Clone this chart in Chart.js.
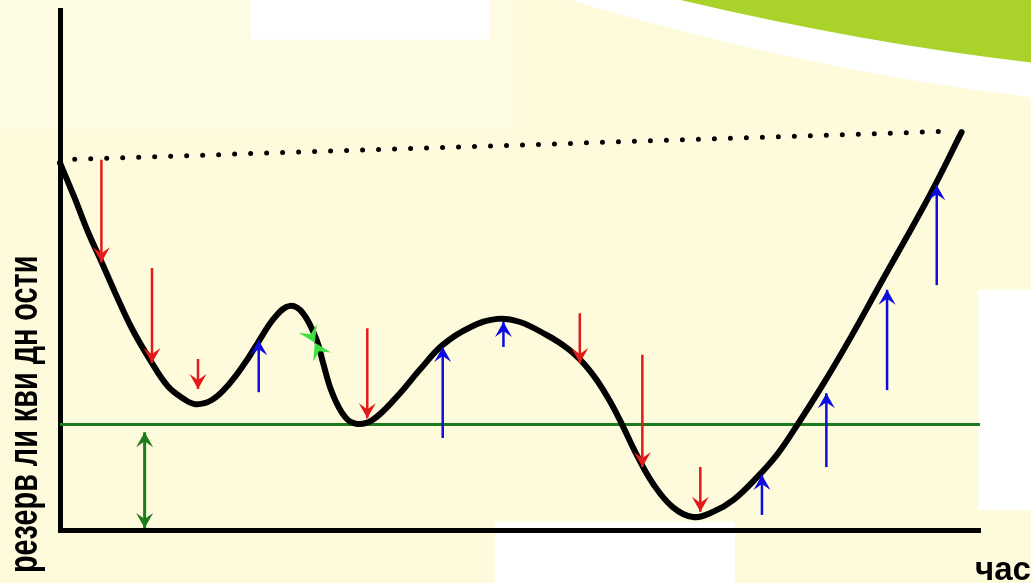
<!DOCTYPE html>
<html>
<head>
<meta charset="utf-8">
<script src="https://cdn.jsdelivr.net/npm/chart.js@4.4.1/dist/chart.umd.min.js"></script>
<style>
  html, body { margin: 0; padding: 0; background: #fefadc; }
  #wrap { width: 1031px; height: 583px; position: relative; }
</style>
</head>
<body>
<div id="wrap"><canvas id="grafico"></canvas></div>
<script>
// кривая резерва ликвидности (x — время, y — резерв)
const curveX = [0, 1.6, 3.0, 4.6, 6.0, 7.8, 10.0, 11.7, 13.3, 14.7, 16.5, 18.3, 20.1, 21.5, 23.4, 25.0, 26.4, 27.9, 28.6, 29.6, 31.0, 32.3, 34.0, 36.6, 39.1, 41.6, 44.6, 47.5, 50.0, 52.9, 54.3, 55.8, 57.1, 58.4, 59.7, 60.9, 62.7, 64.5, 66.6, 68.8, 71.0, 73.2, 75.8, 77.9, 79.7, 82.9, 85.9, 89.1, 94.6, 98.0];
const curveY = [70.6, 63.8, 57.5, 51.2, 45.6, 38.8, 32.1, 27.7, 25.4, 24.2, 25.0, 27.9, 32.1, 36.0, 41.0, 43.1, 41.7, 36.5, 32.1, 26.3, 21.7, 20.4, 21.2, 25.6, 30.8, 35.6, 39.0, 40.6, 40.0, 37.5, 36.0, 34.0, 31.7, 28.7, 25.0, 21.0, 14.4, 8.8, 4.4, 2.5, 3.5, 5.8, 10.2, 14.4, 19.0, 27.9, 36.9, 47.1, 64.6, 76.5];

// пунктир сверху и минимальный уровень
const dottedX = [1.6, 97.0];
const dottedY = [71.3, 76.7];
const minLevel = 20.3;

// оттоки (красные стрелки вниз)
const outX = [4.5, 10.0, 15.0, 33.4, 56.5, 63.3, 69.6];
const outFrom = [71.2, 50.4, 32.9, 38.8, 41.7, 33.7, 12.1];
const outTo = [51.5, 32.1, 27.1, 21.5, 32.1, 12.1, 3.5];

// притоки (синие стрелки вверх)
const inX = [21.6, 41.6, 48.2, 76.3, 83.3, 89.9, 95.3];
const inFrom = [26.5, 17.7, 35.2, 2.9, 12.1, 26.9, 47.1];
const inTo = [36.5, 35.2, 40.0, 10.6, 26.3, 46.2, 66.3];

// двойная стрелка до минимального уровня и маленькая зелёная на спаде
const reserveX = 9.2;
const reserveY = [18.8, 0.4];
const smallX = [26.6, 27.7, 28.8];
const smallY = [40.0, 36.0, 32.2];

const pts = (xs, ys) => xs.map((x, i) => ({ x: x, y: ys[i] }));

const arrowSets = [];
outX.forEach((x, i) => {
  arrowSets.push({
    data: [{ x: x, y: outFrom[i] }, { x: x, y: outTo[i] }],
    borderColor: "#e21a1a", borderWidth: 2.5, pointRadius: 0, arrow: "end", order: 0, clip: false,
  });
});
inX.forEach((x, i) => {
  arrowSets.push({
    data: [{ x: x, y: inFrom[i] }, { x: x, y: inTo[i] }],
    borderColor: "#0c0ce0", borderWidth: 2.5, pointRadius: 0, arrow: "end", order: 0, clip: false,
  });
});
arrowSets.push({
  data: [{ x: reserveX, y: reserveY[0] }, { x: reserveX, y: reserveY[1] }],
  borderColor: "#1c7c1c", borderWidth: 3, pointRadius: 0, arrow: "both", order: 0, clip: false,
});
arrowSets.push({
  data: pts(smallX, smallY),
  borderColor: "rgba(0,0,0,0)", arrowColor: "#3de03d", borderWidth: 0, pointRadius: 0, arrow: "inward", order: 0, clip: false,
});

// фон слайда
const fonSlide = {
  id: "fonSlide",
  beforeDraw(chart) {
    const c = chart.ctx, w = chart.width, h = chart.height;
    c.save();
    c.fillStyle = "#fefadc";
    c.fillRect(0, 0, w, h);
    c.fillStyle = "#fefbe3";
    c.fillRect(0, 0, w * 0.5, h * 0.22);
    c.fillStyle = "#ffffff";
    c.fillRect(w * 0.243, 0, w * 0.232, h * 0.068);
    c.fillRect(w * 0.48, h * 0.895, w * 0.233, h * 0.105);
    c.fillRect(w * 0.949, h * 0.497, w * 0.051, h * 0.378);
    c.beginPath();
    c.moveTo(w * 0.553, 0);
    c.lineTo(w, 0);
    c.lineTo(w, h * 0.167);
    c.quadraticCurveTo(w * 0.78, h * 0.12, w * 0.553, 0);
    c.fill();
    c.fillStyle = "#a9d22a";
    c.beginPath();
    c.moveTo(w * 0.66, 0);
    c.lineTo(w, 0);
    c.lineTo(w, h * 0.107);
    c.quadraticCurveTo(w * 0.84, h * 0.075, w * 0.66, 0);
    c.fill();
    c.restore();
  },
};

const drawHead = (c, tip, from, color, len, half) => {
  const ang = Math.atan2(tip.y - from.y, tip.x - from.x);
  c.save();
  c.translate(tip.x, tip.y);
  c.rotate(ang);
  c.fillStyle = color;
  c.beginPath();
  c.moveTo(0, 0);
  c.lineTo(-len, -half);
  c.lineTo(-len * 0.6, 0);
  c.lineTo(-len, half);
  c.closePath();
  c.fill();
  c.restore();
};

const strelki = {
  id: "strelki",
  afterDatasetsDraw(chart) {
    const c = chart.ctx;
    chart.data.datasets.forEach((ds, i) => {
      if (!ds.arrow) return;
      const p = chart.getDatasetMeta(i).data;
      const color = ds.arrowColor || ds.borderColor;
      const a = { x: p[0].x, y: p[0].y };
      const b = { x: p[p.length - 1].x, y: p[p.length - 1].y };
      if (ds.arrow === "inward") {
        const m = { x: p[1].x, y: p[1].y };
        drawHead(c, m, a, color, 16, 10);
        drawHead(c, m, b, color, 16, 10);
        return;
      }
      drawHead(c, b, a, color, 15, 8.5);
      if (ds.arrow === "both") drawHead(c, a, b, color, 15, 8.5);
    });
  },
};

const podpisi = {
  id: "podpisi",
  afterDraw(chart) {
    const c = chart.ctx, a = chart.chartArea;
    c.save();
    c.fillStyle = "#000";
    c.font = "bold 40px 'Liberation Sans', Arial, sans-serif";
    c.textBaseline = "alphabetic";
    c.translate(a.left - 23, a.bottom + 43);
    c.rotate(-Math.PI / 2);
    c.scale(0.72, 1);
    c.textAlign = "left";
    c.fillText("резерв ли кви дн ости", 0, 0);
    c.restore();
    c.save();
    c.fillStyle = "#000";
    c.font = "bold 33px 'Liberation Sans', Arial, sans-serif";
    c.textAlign = "left";
    c.textBaseline = "alphabetic";
    c.fillText("час", a.right - 5, a.bottom + 50);
    c.restore();
  },
};

const ctx = document.getElementById("grafico").getContext("2d");

const myChart = new Chart(ctx, {
  type: "line",
  data: {
    datasets: [
      ...arrowSets,
      {
        data: pts(curveX, curveY),
        borderColor: "#000",
        borderWidth: 6,
        pointRadius: 0,
        tension: 0.4,
        borderJoinStyle: "round",
        borderCapStyle: "round",
        order: 1,
        clip: false,
      },
      {
        data: [{ x: 0, y: minLevel }, { x: 100, y: minLevel }],
        borderColor: "#1c7c1c",
        borderWidth: 3,
        pointRadius: 0,
        order: 2,
      },
      {
        data: pts(dottedX, dottedY),
        borderColor: "#000",
        borderWidth: 5,
        borderDash: [0, 16],
        borderCapStyle: "round",
        pointRadius: 0,
        order: 3,
        clip: false,
      },
    ],
  },
  options: {
    responsive: true,
    maintainAspectRatio: false,
    animation: false,
    layout: { padding: { left: 60, top: 10, right: 51, bottom: 53 } },
    plugins: { legend: { display: false }, tooltip: { enabled: false } },
    scales: {
      x: {
        type: "linear",
        min: 0,
        max: 100,
        grid: { display: false, drawTicks: false },
        ticks: { display: false },
        border: { display: true, color: "#000", width: 5 },
      },
      y: {
        min: 0,
        max: 100,
        grid: { display: false, drawTicks: false },
        ticks: { display: false },
        border: { display: true, color: "#000", width: 5 },
      },
    },
  },
  plugins: [fonSlide, strelki, podpisi],
});
</script>
</body>
</html>
